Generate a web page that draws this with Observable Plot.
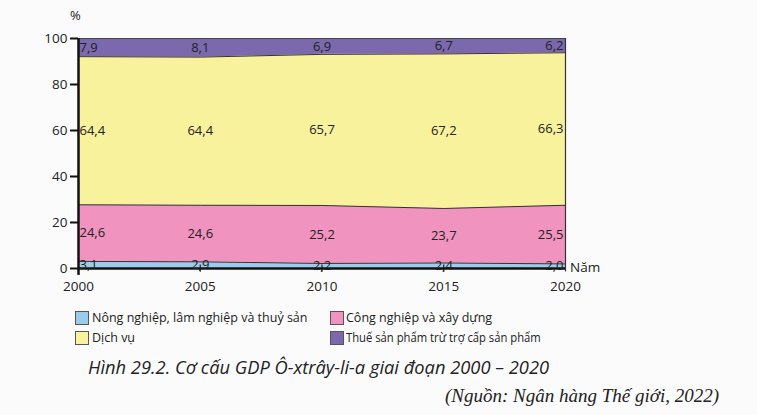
<!DOCTYPE html>
<html><head><meta charset="utf-8">
<script src="https://cdn.jsdelivr.net/npm/d3@7"></script>
<script src="https://cdn.jsdelivr.net/npm/@observablehq/plot@0.6"></script>
<style>
body{margin:0;background:#fbfbfb;font-family:"Open Sans",sans-serif;width:757px;height:415px;overflow:hidden;position:relative;color:#222}
#chart{position:absolute;left:0;top:0}
.abs{position:absolute;white-space:nowrap}
.sw{position:absolute;width:12px;height:12px;border:1px solid #555}
.lg{font-size:12.5px;line-height:16px;transform-origin:left center}
</style></head><body>
<div id="chart"></div>
<div class="abs" style="left:70px;top:6px;font-size:13px">%</div>
<div class="abs" style="left:570px;top:258px;font-size:13.5px">Năm</div>
<div id="legend"></div>
<div class="abs" style="left:88px;top:354px;font-size:18.3px;font-style:italic">Hình 29.2. Cơ cấu GDP Ô-xtrây-li-a giai đoạn 2000 – 2020</div>
<div class="abs" style="right:38px;top:385px;font-size:19px;font-style:italic;font-family:'Liberation Serif',serif">(Nguồn: Ngân hàng Thế giới, 2022)</div>
<script>
const years = [2000, 2005, 2010, 2015, 2020];
const sectors = ["Nông nghiệp, lâm nghiệp và thuỷ sản", "Công nghiệp và xây dựng", "Dịch vụ", "Thuế sản phẩm trừ trợ cấp sản phẩm"];
const agri = [3.1, 2.9, 2.2, 2.4, 2.0];
const industry = [24.6, 24.6, 25.2, 23.7, 25.5];
const services = [64.4, 64.4, 65.7, 67.2, 66.3];
const taxes = [7.9, 8.1, 6.9, 6.7, 6.2];
const colors = ["#9dcbeb", "#f093bf", "#f8f29c", "#7b68ad"];
const yTicks = [0, 20, 40, 60, 80, 100];

const series = [agri, industry, services, taxes];
const rows = [];
series.forEach((vals, si) => vals.forEach((v, i) => rows.push({year: years[i], sector: sectors[si], value: v})));
const fmt = v => v.toFixed(1).replace(".", ",");
const stackOpts = {x: "year", y: "value", z: "sector", order: sectors};

const labelMark = (yr, anchor, dx) => Plot.text(rows, Plot.stackY({
  ...stackOpts, filter: d => d.year === yr, text: d => fmt(d.value),
  textAnchor: anchor, dx, fontSize: 13, fill: "#222"
}));

const chart = Plot.plot({
  width: 757, height: 300,
  marginTop: 38, marginBottom: 32, marginLeft: 78, marginRight: 192,
  style: {fontFamily: "'Open Sans', sans-serif", background: "transparent", color: "#222"},
  x: {domain: [2000, 2020]},
  y: {domain: [0, 100]},
  color: {domain: sectors, range: colors},
  marks: [
    Plot.areaY(rows, Plot.stackY({...stackOpts, fill: "sector"})),
    Plot.lineY(rows, Plot.stackY2({...stackOpts, stroke: "#333", strokeWidth: 1})),
    Plot.ruleY([100], {x1: 2000, x2: 2020, stroke: "#444", strokeWidth: 1.2}),
    Plot.ruleX([2020], {y1: -1.5, y2: 100, stroke: "#333", strokeWidth: 1.2}),
    Plot.ruleX([2005, 2010, 2015], {y1: -1.6, y2: 1.5, stroke: "#222", strokeWidth: 1.2}),
    Plot.ruleY([0], {x1: 2000, x2: 2020, stroke: "#111", strokeWidth: 2.5}),
    Plot.ruleX([2000], {y1: -3, y2: 100, stroke: "#111", strokeWidth: 2.5}),
    Plot.axisY({ticks: yTicks, tickSize: 8, tickPadding: 3, strokeWidth: 2, fontSize: 13.5, label: null, stroke: "#111"}),
    Plot.axisX({ticks: years, tickFormat: d => String(d), tickSize: 0, tickPadding: 13, fontSize: 13.5, label: null}),
    labelMark(2000, "start", 1),
    labelMark(2005, "middle", 0),
    labelMark(2010, "middle", 0),
    labelMark(2015, "middle", 0),
    labelMark(2020, "end", -2)
  ]
});
document.getElementById("chart").append(chart);

const pos = [[75, 310, 92], [330, 310, 346], [75, 330, 92], [330, 330, 346]];
const squeeze = [1, 1, 1, 0.9];
const leg = document.getElementById("legend");
[0, 1, 2, 3].forEach((si, k) => {
  const [sx, sy, tx] = pos[k];
  const s = document.createElement("div");
  s.className = "sw"; s.style.left = sx + "px"; s.style.top = (sy + 1) + "px"; s.style.background = colors[si];
  const t = document.createElement("div");
  t.className = "abs lg"; t.style.left = tx + "px"; t.style.top = sy + "px"; t.textContent = sectors[si];
  t.style.transform = `scaleX(${squeeze[k]})`;
  leg.append(s, t);
});
</script>
</body></html>
